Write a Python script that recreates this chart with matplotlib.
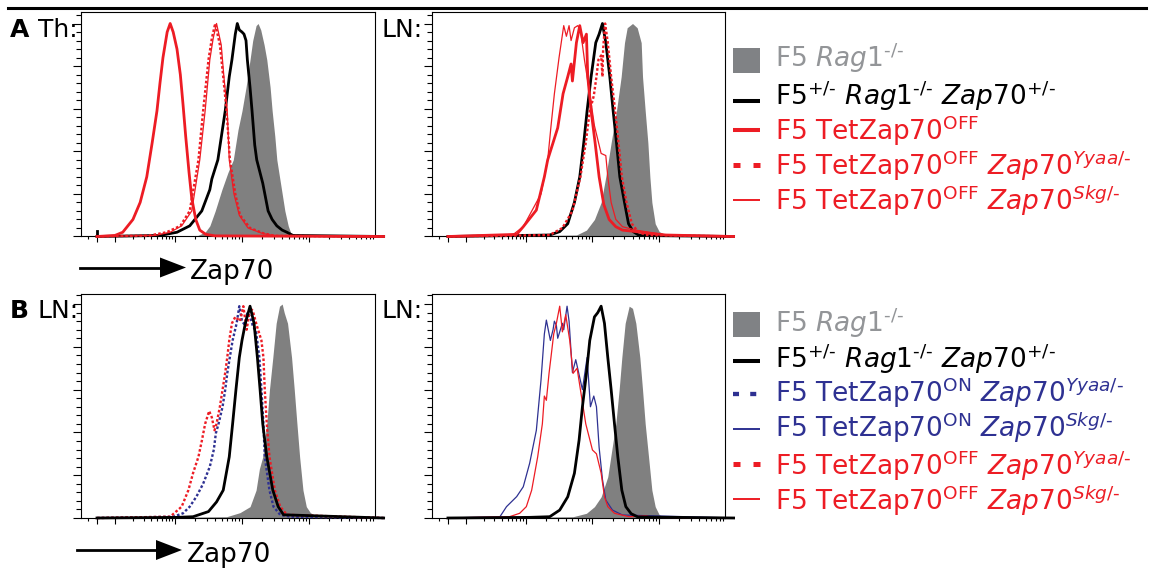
import numpy as np
import matplotlib
matplotlib.use("Agg")
import matplotlib.pyplot as plt
from matplotlib.lines import Line2D
from matplotlib.patches import Rectangle, Polygon

plt.rcParams["font.family"] = ["DejaVu Sans"]
plt.rcParams["mathtext.fontset"] = "dejavusans"

# ---------------------------------------------------------------------------
# Zap70 histograms: x = log10 Zap70 intensity, y = % of max
# ---------------------------------------------------------------------------
# A, thymus
th_rag_lx = [3.34, 3.45, 3.52, 3.60, 3.70, 3.79, 3.87, 3.94, 4.00, 4.06, 4.12, 4.16, 4.21,
             4.24, 4.28, 4.33, 4.37, 4.42, 4.45, 4.49, 4.52, 4.58, 4.64, 4.69, 4.73, 4.78]
th_rag_pct = [0.5, 2, 5, 12, 22, 30, 36, 50, 59, 70, 83, 92, 99,
              100, 97, 90, 83, 70, 59, 47, 36, 24, 12, 5, 1.5, 0.3]
th_het_lx = [2.75, 3.03, 3.22, 3.40, 3.52, 3.55, 3.64, 3.75, 3.81, 3.85, 3.90, 3.93, 3.96, 4.00,
             4.03, 4.06, 4.08, 4.12, 4.15, 4.19, 4.22, 4.31, 4.39, 4.45, 4.52, 4.60, 4.67, 4.76]
th_het_pct = [0.5, 2, 5, 12, 22, 27, 36, 59, 75, 83, 95, 100, 97, 96,
              95, 92, 83, 70, 59, 43, 36, 25, 12, 8, 5, 3, 2, 0.5]
th_het_zero_pct = 2.5
th_off_lx = [2.00, 2.13, 2.30, 2.42, 2.53, 2.62, 2.70, 2.75, 2.80, 2.87, 2.92,
             2.97, 3.03, 3.08, 3.12, 3.16, 3.21, 3.25, 3.31, 3.37, 3.46, 3.60]
th_off_pct = [0.5, 2, 8, 16, 28, 44, 59, 72, 84, 96, 100,
              96, 88, 76, 62, 47, 30, 18, 8, 3, 1, 0.3]
th_off_yyaa_lx = [2.58, 2.86, 3.08, 3.22, 3.35, 3.42, 3.50, 3.55, 3.60,
                  3.67, 3.72, 3.77, 3.82, 3.90, 3.97, 4.12, 4.32, 4.49]
th_off_yyaa_pct = [0.5, 2, 5, 12, 36, 59, 83, 93, 100, 90, 75, 59, 36, 20, 10, 4, 1.5, 0.3]
th_off_skg_lx = [2.67, 2.92, 3.10, 3.25, 3.37, 3.45, 3.52, 3.57, 3.62,
                 3.69, 3.73, 3.78, 3.81, 3.88, 3.96, 4.09, 4.30, 4.49]
th_off_skg_pct = [0.5, 2, 5, 12, 36, 59, 83, 93, 100, 90, 75, 59, 36, 20, 10, 4, 1.5, 0.3]

# A, lymph node
lna_rag_lx = [3.76, 3.91, 4.03, 4.13, 4.20, 4.28, 4.36, 4.43, 4.48, 4.52, 4.60,
              4.67, 4.73, 4.75, 4.79, 4.83, 4.86, 4.89, 4.94, 5.00, 5.10, 5.22]
lna_rag_pct = [0.7, 3, 8, 16, 28, 44, 59, 75, 91, 98, 100,
               98, 91, 75, 59, 44, 28, 16, 6, 2.3, 0.7, 0.3]
lna_het_lx = [3.36, 3.51, 3.63, 3.73, 3.81, 3.87, 3.92, 3.98, 4.05, 4.10,
              4.15, 4.20, 4.26, 4.31, 4.36, 4.41, 4.48, 4.54, 4.61, 4.70]
lna_het_pct = [0.7, 2.3, 6, 16, 28, 44, 59, 75, 91, 95,
               100, 91, 75, 59, 44, 28, 16, 6, 2.3, 0.5]
lna_off_lx = [2.85, 2.96, 3.16, 3.28, 3.33, 3.41, 3.48, 3.52, 3.56, 3.63, 3.68, 3.70, 3.76, 3.81,
              3.86, 3.91, 3.93, 3.98, 4.04, 4.10, 4.17, 4.25, 4.35, 4.45, 4.65, 4.85, 5.10]
lna_off_pct = [1, 4.6, 12.4, 28, 36, 44, 51, 59, 67, 75, 81, 73, 91, 99,
               91, 95, 75, 59, 44, 28, 15, 8, 4.6, 3, 2.3, 1.5, 0.7]
lna_off_yyaa_lx = [3.36, 3.55, 3.70, 3.82, 3.90, 3.96, 4.02, 4.06, 4.09, 4.13, 4.15,
                   4.16, 4.19, 4.23, 4.28, 4.34, 4.39, 4.44, 4.51, 4.59, 4.68, 4.80]
lna_off_yyaa_pct = [0.7, 4, 12, 28, 44, 59, 66, 75, 83, 85, 75,
                    88, 100, 91, 75, 59, 44, 28, 16, 6, 2.3, 0.7]
lna_off_skg_lx = [2.78, 2.96, 3.23, 3.33, 3.38, 3.43, 3.50, 3.57, 3.61, 3.65, 3.68, 3.73, 3.78,
                  3.82, 3.88, 3.96, 4.03, 4.13, 4.20, 4.23, 4.28, 4.35, 4.45, 4.65, 4.95, 5.15]
lna_off_skg_pct = [0.7, 4.6, 20, 36, 52, 67, 84, 99, 94, 99, 92, 98, 99,
                   97, 83, 67, 52, 39, 38, 28, 16, 8, 4.6, 3, 1.5, 0.5]

# B, lymph node, Yyaa
lnb_rag_lx = [3.77, 3.97, 4.12, 4.21, 4.26, 4.31, 4.37, 4.41, 4.46, 4.51, 4.56,
              4.60, 4.63, 4.68, 4.74, 4.78, 4.82, 4.86, 4.91, 4.96, 5.02, 5.12]
lnb_rag_pct = [0.6, 2.5, 5.3, 13, 23, 28.6, 44, 60, 75, 91, 99,
               100, 96, 91, 75, 60, 44, 28.6, 13, 5.3, 2.5, 0.6]
lnb_het_lx = [3.03, 3.27, 3.50, 3.62, 3.72, 3.81, 3.86, 3.91, 3.96, 4.00,
              4.05, 4.12, 4.18, 4.23, 4.27, 4.31, 4.37, 4.46, 4.54, 4.62]
lnb_het_pct = [0.3, 0.6, 3, 7.5, 13, 28.6, 44, 60, 75, 83,
               91, 99, 91, 75, 60, 44, 28.6, 13, 5.3, 1.5]
lnb_on_yyaa_lx = [2.97, 3.12, 3.22, 3.32, 3.42, 3.52, 3.58, 3.61, 3.65, 3.71,
                  3.75, 3.78, 3.82, 3.86, 3.92, 3.96, 4.00, 4.05, 4.08, 4.12,
                  4.16, 4.21, 4.26, 4.29, 4.32, 4.34, 4.41, 4.47, 4.57, 4.72]
lnb_on_yyaa_pct = [0.6, 2.2, 5.3, 10, 16, 24, 32, 39.6, 44, 52,
                   60, 67.6, 75.4, 83, 91, 99, 92, 90, 96, 94,
                   90, 87, 75, 60, 44, 28.6, 13, 5.3, 1.5, 0.6]
lnb_off_yyaa_lx = [2.92, 3.10, 3.20, 3.27, 3.35, 3.40, 3.45, 3.51, 3.55, 3.59,
                   3.62, 3.67, 3.71, 3.75, 3.78, 3.81, 3.85, 3.90, 3.97, 4.02,
                   4.07, 4.12, 4.16, 4.22, 4.29, 4.32, 4.34, 4.37, 4.41, 4.49, 4.57, 4.67]
lnb_off_yyaa_pct = [0.6, 5.3, 13, 21, 28.6, 36, 44, 50, 47, 41,
                    44, 52, 60, 68, 75, 83, 91, 94, 92, 99,
                    88, 98, 97, 90, 83, 75, 60, 44, 28.6, 13, 5.3, 1.5]

# B, lymph node, Skg
lnc_rag_lx = [3.71, 3.91, 4.03, 4.13, 4.23, 4.29, 4.35, 4.40, 4.44, 4.49, 4.55,
              4.60, 4.65, 4.71, 4.75, 4.79, 4.84, 4.89, 4.94, 5.00, 5.08]
lnc_rag_pct = [0.6, 2.2, 5.3, 9.9, 19.3, 31.8, 44, 60, 75, 91, 99,
               98, 91, 75, 60, 44, 28.6, 13, 5.3, 1.5, 0.3]
lnc_het_lx = [3.06, 3.36, 3.51, 3.63, 3.73, 3.80, 3.85, 3.91, 3.96, 4.03, 4.08,
              4.13, 4.18, 4.23, 4.28, 4.33, 4.38, 4.44, 4.50, 4.58, 4.68]
lnc_het_pct = [0.3, 0.6, 3.7, 9.9, 20.9, 36.4, 52, 67.6, 83, 94, 96,
               99, 91, 75, 60, 44, 28.6, 13, 5.3, 2, 0.5]
lnc_on_skg_lx = [2.57, 2.68, 2.85, 2.96, 3.06, 3.16, 3.23, 3.28, 3.31, 3.37,
                 3.41, 3.43, 3.46, 3.48, 3.55, 3.57, 3.62, 3.65, 3.70, 3.75,
                 3.80, 3.85, 3.92, 3.97, 4.02, 4.06, 4.10, 4.15, 4.20, 4.30, 4.45]
lnc_on_skg_pct = [0.6, 5.3, 10, 14.6, 25.6, 41, 64.5, 86, 92.5, 83,
                  88, 92, 90, 84, 91, 88, 99, 92, 68, 74,
                  67, 60, 75, 52, 57, 52, 33, 18, 8.4, 3.7, 1.4]
lnc_off_skg_lx = [2.73, 2.90, 3.01, 3.09, 3.18, 3.25, 3.28, 3.31, 3.35, 3.38,
                  3.42, 3.46, 3.51, 3.55, 3.60, 3.66, 3.71, 3.77, 3.82, 3.90,
                  4.00, 4.06, 4.13, 4.18, 4.23, 4.33, 4.55, 4.80, 4.90]
lnc_off_skg_pct = [0.6, 2.2, 5.3, 13, 28.6, 44, 57, 55, 67.6, 75.4,
                   86, 91, 99, 87, 95, 83, 67.6, 70, 60, 44,
                   31.8, 30, 21, 10, 5.3, 2.2, 0.6, 1, 0.3]

top_channel = 1.3e6          # last channel of the acquisition range

panel_titles = ["Th:", "LN:", "LN:", "LN:"]
panel_letters = ["A", "B"]
axis_label = "Zap70"

HY = "\u2010"
legend_a = [
    "F5 $\\mathit{Rag1}^{\\mathit{" + HY + "/" + HY + "}}$",
    "F5$^{\\mathit{+/" + HY + "}}$ $\\mathit{Rag1}^{\\mathit{" + HY + "/" + HY
    + "}}$ $\\mathit{Zap70}^{\\mathit{+/" + HY + "}}$",
    "F5 TetZap70$^{\\mathrm{OFF}}$",
    "F5 TetZap70$^{\\mathrm{OFF}}$ $\\mathit{Zap70}^{\\mathit{Yyaa/" + HY + "}}$",
    "F5 TetZap70$^{\\mathrm{OFF}}$ $\\mathit{Zap70}^{\\mathit{Skg/" + HY + "}}$",
]
legend_b = [
    legend_a[0],
    legend_a[1],
    "F5 TetZap70$^{\\mathrm{ON}}$ $\\mathit{Zap70}^{\\mathit{Yyaa/" + HY + "}}$",
    "F5 TetZap70$^{\\mathrm{ON}}$ $\\mathit{Zap70}^{\\mathit{Skg/" + HY + "}}$",
    legend_a[3],
    legend_a[4],
]

# ---------------------------------------------------------------------------
RED = "#ED1C24"
BLUE = "#2E3192"
GRAY_FILL = "#808080"
GRAY_KEY = "#808285"
GRAY_TEXT = "#939598"

W, H = 1159, 573
fig = plt.figure(figsize=(W / 100, H / 100), dpi=100)


def fx(x):
    return x / W


def fy(y):
    return 1 - y / H


# biexponential-like display: linear around zero, compressed first decade, log above
D0, SLOPE, COMP = 2.104, 0.268, 0.896


def fwd(v):
    v = np.asarray(v, dtype=float)
    lin = D0 + SLOPE * (v - 100.0) / 100.0
    mid = 3.0 - COMP * (3.0 - np.log10(np.clip(v, 100.0, 1000.0)))
    hi = np.log10(np.maximum(v, 1000.0))
    return np.where(v < 100, lin, np.where(v < 1000, mid, hi))


def inv(d):
    d = np.asarray(d, dtype=float)
    lin = 100.0 + (d - D0) / SLOPE * 100.0
    mid = 10.0 ** (3.0 - (3.0 - np.clip(d, D0, 3.0)) / COMP)
    hi = 10.0 ** np.clip(d, 3.0, 12.0)
    return np.where(d < D0, lin, np.where(d < 3.0, mid, hi))


x_major = [0, 1e2, 1e3, 1e4, 1e5]
x_minor = [-50] + [k * 10.0 ** n for n in (2, 3, 4, 5) for k in range(2, 10)]


def make_axes(x0, y0, x1, y1, ytop):
    ax = fig.add_axes([fx(x0), fy(y1), (x1 - x0) / W, (y1 - y0) / H])
    ax.set_xscale("function", functions=(fwd, inv))
    ax.set_xlim(-89, 9.66e5)
    ax.set_ylim(0, ytop)
    ax.set_xticks(x_major)
    ax.set_xticks(x_minor, minor=True)
    ax.set_yticks(np.arange(0, 101, 20))
    ax.set_yticks(np.arange(4, ytop, 4), minor=True)
    ax.tick_params(which="both", direction="out", width=0.8, color="black",
                   labelbottom=False, labelleft=False, top=False, right=False)
    ax.tick_params(axis="y", which="major", length=5.8)
    ax.tick_params(axis="y", which="minor", length=3.6)
    ax.tick_params(axis="x", which="major", length=4.0)
    ax.tick_params(axis="x", which="minor", length=2.2)
    for s in ax.spines.values():
        s.set_linewidth(0.8)
    return ax


def hist_xy(lx, pct):
    x = np.concatenate([[0.0], 10.0 ** np.asarray(lx, dtype=float), [top_channel]])
    y = np.concatenate([[0.0], np.asarray(pct, dtype=float), [0.0]])
    return x, y


def filled(ax, lx, pct):
    x, y = hist_xy(lx, pct)
    ax.fill_between(x, y, 0, color=GRAY_FILL, lw=0, zorder=1)


def trace(ax, lx, pct, **kw):
    x, y = hist_xy(lx, pct)
    ax.plot(x, y, clip_on=False, solid_joinstyle="round", dash_joinstyle="round",
            zorder=kw.pop("zorder", 3), **kw)


thick = dict(lw=2.0)
thin = dict(lw=0.9)
dotted = dict(lw=1.7, ls=(0, (1.1, 0.9)))

# A, thymus
ax = make_axes(81, 12, 375, 236.5, 105.4)
filled(ax, th_rag_lx, th_rag_pct)
trace(ax, th_het_lx, th_het_pct, color="black", **thick)
ax.plot([0, 0], [0, th_het_zero_pct], color="black", lw=2.0, zorder=3)
trace(ax, th_off_skg_lx, th_off_skg_pct, color=RED, **thin)
trace(ax, th_off_yyaa_lx, th_off_yyaa_pct, color=RED, **dotted)
trace(ax, th_off_lx, th_off_pct, color=RED, **thick)

# A, lymph node
ax = make_axes(432, 12, 725, 236.5, 105.4)
filled(ax, lna_rag_lx, lna_rag_pct)
trace(ax, lna_het_lx, lna_het_pct, color="black", **thick)
trace(ax, lna_off_yyaa_lx, lna_off_yyaa_pct, color=RED, **dotted)
trace(ax, lna_off_skg_lx, lna_off_skg_pct, color=RED, **thin)
trace(ax, lna_off_lx, lna_off_pct, color=RED, **thick)

# B, lymph node, Yyaa
ax = make_axes(81, 294, 375, 518, 104.7)
filled(ax, lnb_rag_lx, lnb_rag_pct)
trace(ax, lnb_on_yyaa_lx, lnb_on_yyaa_pct, color=BLUE, **dotted)
trace(ax, lnb_off_yyaa_lx, lnb_off_yyaa_pct, color=RED, **dotted)
trace(ax, lnb_het_lx, lnb_het_pct, color="black", **thick)

# B, lymph node, Skg
ax = make_axes(432, 294, 725, 518, 104.7)
filled(ax, lnc_rag_lx, lnc_rag_pct)
trace(ax, lnc_on_skg_lx, lnc_on_skg_pct, color=BLUE, **thin)
trace(ax, lnc_off_skg_lx, lnc_off_skg_pct, color=RED, **thin)
trace(ax, lnc_het_lx, lnc_het_pct, color="black", **thick)

# ---------------------------------------------------------------------------
# figure furniture
fig.add_artist(Line2D([fx(8), fx(1146)], [fy(7.5), fy(7.5)], color="black", lw=2.2))

label_kw = dict(fontsize=18, va="baseline", ha="left")
fig.text(fx(10), fy(37), panel_letters[0], fontweight="bold", **label_kw)
fig.text(fx(38), fy(37), panel_titles[0], **label_kw)
fig.text(fx(381), fy(37), panel_titles[1], **label_kw)
fig.text(fx(10), fy(318.5), panel_letters[1], fontweight="bold", **label_kw)
fig.text(fx(38), fy(318.5), panel_titles[2], **label_kw)
fig.text(fx(381), fy(318.5), panel_titles[3], **label_kw)


def axis_arrow(x0, x1, y, text_x, text_y):
    fig.add_artist(Line2D([fx(x0), fx(x1 - 24)], [fy(y), fy(y)], color="black", lw=2.0))
    fig.add_artist(Polygon([(fx(x1 - 26), fy(y - 10)), (fx(x1), fy(y)),
                            (fx(x1 - 26), fy(y + 10))], closed=True,
                           facecolor="black", edgecolor="none"))
    fig.text(fx(text_x), fy(text_y), axis_label, fontsize=19, va="baseline", ha="left")


axis_arrow(80, 186, 267.5, 190, 279)
axis_arrow(77, 182, 550, 187, 562)

# legends
KX0, KX1 = 733, 760
TX = 775
LEG_FS = 19


def key_box(y_top):
    fig.add_artist(Rectangle((fx(KX0), fy(y_top + 25)), 27 / W, 25 / H,
                             facecolor=GRAY_KEY, edgecolor="none"))


def key_line(y, color, lw, dashed=False):
    kw = dict(color=color, lw=lw, solid_capstyle="butt", dash_capstyle="butt")
    if dashed:
        kw["ls"] = (0, (1.4, 2.6))
    fig.add_artist(Line2D([fx(KX0), fx(KX1)], [fy(y), fy(y)], **kw))


def key_text(y, s, color):
    fig.text(fx(TX), fy(y), s, color=color, fontsize=LEG_FS, va="baseline", ha="left")


key_box(48)
key_text(67.3, legend_a[0], GRAY_TEXT)
key_line(100.5, "black", 2.9)
key_text(105, legend_a[1], "black")
key_line(130, RED, 2.9)
key_text(140, legend_a[2], RED)
key_line(165, RED, 3.6, dashed=True)
key_text(175, legend_a[3], RED)
key_line(200, RED, 1.4)
key_text(210, legend_a[4], RED)

key_box(311.7)
key_text(331.7, legend_b[0], GRAY_TEXT)
key_line(360.7, "black", 2.9)
key_text(368.3, legend_b[1], "black")
key_line(394, BLUE, 3.1, dashed=True)
key_text(401.7, legend_b[2], BLUE)
key_line(429.3, BLUE, 1.4)
key_text(436.7, legend_b[3], BLUE)
key_line(464, RED, 3.6, dashed=True)
key_text(475, legend_b[4], RED)
key_line(499, RED, 1.4)
key_text(510, legend_b[5], RED)

fig.savefig("out.png", dpi=100)
